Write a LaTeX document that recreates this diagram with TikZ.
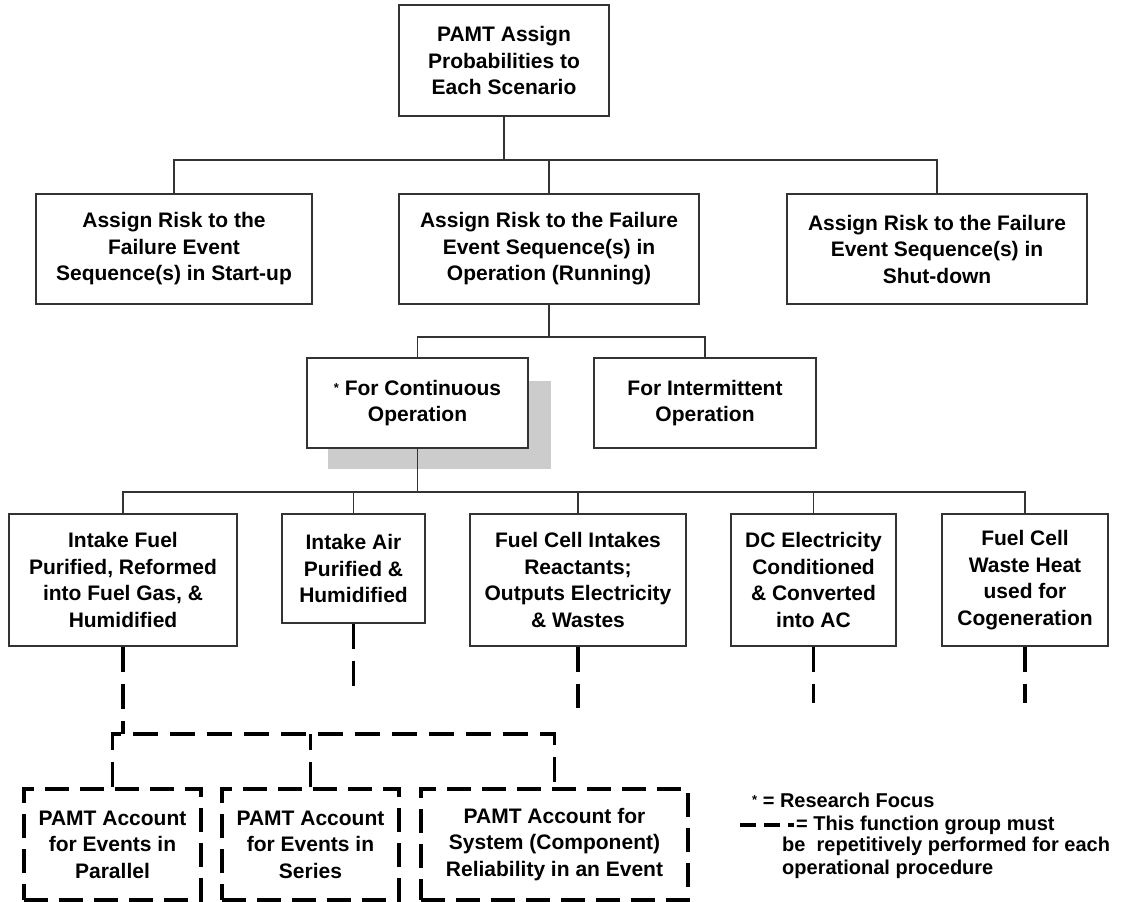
\documentclass[tikz,border=0pt]{standalone}
\usepackage{fontspec}
\setmainfont{Liberation Sans}
\usetikzlibrary{calc}
\definecolor{linegray}{HTML}{333333}
\definecolor{shadowgray}{HTML}{CCCCCC}
\newcommand{\smallstar}{\raisebox{3pt}{\fontsize{13}{13}\selectfont *}}
\begin{document}
\begin{tikzpicture}[x=1pt,y=-1pt,
  txt/.style={font=\fontsize{21}{26.5}\selectfont\bfseries},
  box/.style={txt, draw=linegray, line width=1.4pt, fill=white, inner sep=0pt, align=center},
  dbox/.style={txt, draw=black, line width=3.6pt, dash pattern=on 24pt off 11pt, inner sep=0pt, align=center},
  link/.style={draw=linegray, line width=1.3pt},
  dlink/.style={draw=black, line width=3.6pt, dash pattern=on 25pt off 12pt},
  legend/.style={font=\fontsize{20}{23}\selectfont\bfseries, inner sep=0pt, align=left}
]
\useasboundingbox (0,0) rectangle (1130,902);

% bus levels
\coordinate (b1) at (0,160);
\coordinate (b2) at (0,337);
\coordinate (b3) at (0,492);
\coordinate (b4) at (0,734);

% shadow behind the research-focus box
\fill[shadowgray] (328,381) rectangle (551,469);

% level 1
\node[box, minimum width=210pt, minimum height=111pt] (top) at (504,60.5)
  {PAMT Assign\\Probabilities to\\Each Scenario};

% level 2
\node[box, minimum width=276pt, minimum height=110pt] (start) at (174,249)
  {Assign Risk to the\\Failure Event\\Sequence(s) in Start-up};
\node[box, minimum width=300pt, minimum height=110pt] (oper) at (549,249)
  {Assign Risk to the Failure\\Event Sequence(s) in\\Operation (Running)};
\node[box, minimum width=300pt, minimum height=110pt] (shut) at (937,249)
  {Assign Risk to the Failure\\Event Sequence(s) in\\Shut-down};

% level 3
\node[box, minimum width=221pt, minimum height=90pt] (cont) at (417.5,403)
  {\smallstar\ For Continuous\\Operation};
\node[box, minimum width=222pt, minimum height=90pt] (inter) at (705,403)
  {For Intermittent\\Operation};

% level 4
\node[box, minimum width=228pt, minimum height=132pt] (f1) at (123,580)
  {Intake Fuel\\Purified, Reformed\\into Fuel Gas, \&\\Humidified};
\node[box, minimum width=143pt, minimum height=109pt] (f2) at (353.5,568.5)
  {Intake Air\\Purified \&\\Humidified};
\node[box, minimum width=216pt, minimum height=132pt] (f3) at (578,580)
  {Fuel Cell Intakes\\Reactants;\\Outputs Electricity\\\& Wastes};
\node[box, minimum width=165pt, minimum height=132pt] (f4) at (813.5,580)
  {DC Electricity\\Conditioned\\\& Converted\\into AC};
\node[box, minimum width=166pt, minimum height=132pt] (f5) at (1025,580)
  {Fuel Cell\\Waste Heat\\used for\\Cogeneration};

% repeated function group
\node[dbox, minimum width=177pt, minimum height=111pt] (d1) at (112.5,844.5)
  {PAMT Account\\for Events in\\Parallel};
\node[dbox, minimum width=177pt, minimum height=111pt] (d2) at (310.5,844.5)
  {PAMT Account\\for Events in\\Series};
\node[dbox, minimum width=267pt, minimum height=111pt] (d3) at (554.5,844.5)
  {PAMT Account for\\System (Component)\\Reliability in an Event};

% tree connectors
\draw[link] (top.south) -- (top.south |- b1);
\draw[link] (start.north) -- (start.north |- b1) -| (shut.north);
\draw[link] (oper.north) -- (oper.north |- b1);

\draw[link] (oper.south) -- (oper.south |- b2);
\draw[link] (cont.north) -- (cont.north |- b2) -| (inter.north);

\draw[link] (cont.south) -- (cont.south |- b3);
\draw[link] (f1.north) -- (f1.north |- b3) -| (f5.north);
\draw[link] (f2.north) -- (f2.north |- b3);
\draw[link] (f3.north) -- (f3.north |- b3);
\draw[link] (f4.north) -- (f4.north |- b3);

% dashed links to the repeated group
\coordinate (e2) at (353.5,687);
\coordinate (e3) at (578,708);
\coordinate (e4) at (813.5,703);
\coordinate (e5) at (1025,703);
\draw[dlink] (f1.south) -- (f1.south |- b4);
\draw[dlink] (f2.south) -- (e2);
\draw[dlink] (f3.south) -- (e3);
\draw[dlink] (f4.south) -- (e4);
\draw[dlink] (f5.south) -- (e5);
\draw[dlink] (d1.north) -- (d1.north |- b4) -| (d3.north);
\draw[dlink] (d2.north) -- (d2.north |- b4);

% legend
\node[legend, anchor=west] (leg1) at (752,800) {\smallstar\ = Research Focus};
\coordinate (ls) at (740,825);
\coordinate (le) at (794,825);
\draw[draw=black, line width=3.6pt, dash pattern=on 16pt off 8pt] (ls) -- (le);
\node[legend, anchor=west] (leg2) at (796,825) {= This function group must};
\node[legend, anchor=north west] (leg3) at (782,837)
  {be\ \ repetitively performed for each\\operational procedure};
\end{tikzpicture}
\end{document}
